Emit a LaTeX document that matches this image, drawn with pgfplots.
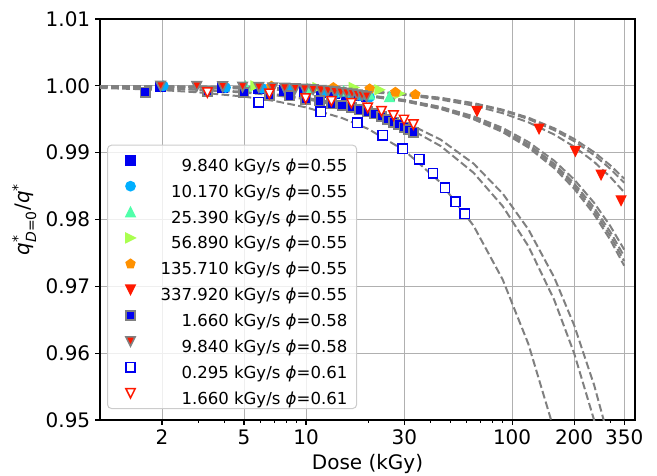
\documentclass[border=0pt]{standalone}
\usepackage{pgfplots}
\pgfplotsset{compat=1.18}
\usepackage{fontspec}
\usepackage{amsmath}
\setmainfont{DejaVu Sans}

\definecolor{c1}{RGB}{0,0,240}
\definecolor{c2}{RGB}{0,175,255}
\definecolor{c3}{RGB}{80,255,170}
\definecolor{c4}{RGB}{170,255,80}
\definecolor{c5}{RGB}{255,145,0}
\definecolor{c6}{RGB}{255,25,0}
\definecolor{fitgray}{RGB}{128,128,128}
\definecolor{gridgray}{RGB}{176,176,176}
\definecolor{legedge}{RGB}{204,204,204}

% matplotlib-like triangles (width = height)
\pgfdeclareplotmark{tridown}{%
  \pgfpathmoveto{\pgfqpoint{0pt}{-\pgfplotmarksize}}%
  \pgfpathlineto{\pgfqpoint{-\pgfplotmarksize}{\pgfplotmarksize}}%
  \pgfpathlineto{\pgfqpoint{\pgfplotmarksize}{\pgfplotmarksize}}%
  \pgfpathclose\pgfusepathqfillstroke}
\pgfdeclareplotmark{triup}{%
  \pgfpathmoveto{\pgfqpoint{0pt}{\pgfplotmarksize}}%
  \pgfpathlineto{\pgfqpoint{-\pgfplotmarksize}{-\pgfplotmarksize}}%
  \pgfpathlineto{\pgfqpoint{\pgfplotmarksize}{-\pgfplotmarksize}}%
  \pgfpathclose\pgfusepathqfillstroke}
\pgfdeclareplotmark{triright}{%
  \pgfpathmoveto{\pgfqpoint{\pgfplotmarksize}{0pt}}%
  \pgfpathlineto{\pgfqpoint{-\pgfplotmarksize}{-\pgfplotmarksize}}%
  \pgfpathlineto{\pgfqpoint{-\pgfplotmarksize}{\pgfplotmarksize}}%
  \pgfpathclose\pgfusepathqfillstroke}

\pgfplotsset{
  fitline/.style={fitgray, line width=1.5pt, dash pattern=on 5.8pt off 2.5pt,
                  no markers, forget plot},
  pts/.style={only marks, mark size=3.5pt, line width=1pt},
}

\begin{document}
\begin{tikzpicture}
\begin{axis}[
    scale only axis,
    width=401.25pt, height=300.75pt,
    xmode=log,
    xmin=1, xmax=395, ymin=0.95, ymax=1.01,
    xtick={2,5,10,30,100,200,350},
    xticklabels={2,5,10,30,100,200,350},
    minor xtick={3,4,6,7,8,9,20,40,50,60,70,80,90,300},
    ytick={0.95,0.96,0.97,0.98,0.99,1.00,1.01},
    yticklabels={0.95,0.96,0.97,0.98,0.99,1.00,1.01},
    xtick pos=bottom, ytick pos=left, tick align=outside,
    major tick length=3.65pt, minor tick length=2.1pt,
    major tick style={black, line width=0.83pt},
    minor tick style={black, line width=0.62pt},
    grid=major,
    major grid style={gridgray, line width=0.75pt},
    axis line style={line width=0.83pt},
    tick label style={font=\fontsize{15}{18}\selectfont, inner sep=3.5pt},
    label style={font=\fontsize{15}{18}\selectfont},
    xlabel={Dose (kGy)},
    ylabel={$\textit{q}^{\text{*}}_{\textit{D}\text{=0}}\text{/}\textit{q}^{\text{*}}$},
    legend cell align=right,
    legend style={at={(0.0131,0.0274)}, anchor=south west,
        font=\fontsize{12.4}{14}\selectfont,
        draw=legedge, fill=white, fill opacity=0.8, text opacity=1,
        rounded corners=3pt, line width=0.75pt,
        inner xsep=7pt, inner ysep=1.7pt, row sep=0pt, column sep=0pt,
        nodes={inner xsep=0pt, inner ysep=0pt}},
    legend image code/.code={%
        \path[draw=none, fill=none] (-10.25pt,-5.35pt) rectangle (22.5pt,13.95pt);
        \draw[#1, fill opacity=1, draw opacity=1] plot coordinates {(0pt,4.3pt)};},
]
\coordinate (fsw) at (rel axis cs:0,0);

%% fitted curves (dashed)
% 0.295 kGy/s phi=0.61
\addplot[fitline] coordinates {
 (1,0.99968) (1.5,0.99952) (2,0.99936) (3,0.99903) (5,0.99839) (7,0.99775)
 (10,0.99678) (15,0.99517) (20,0.99356) (30,0.99034) (45,0.98551) (65,0.97907)
 (90,0.97102) (120,0.96136) (160,0.94848) (200,0.93560)};
% 1.660 kGy/s phi=0.58
\addplot[fitline] coordinates {
 (1,0.99980) (1.5,0.99970) (2,0.99960) (3,0.99940) (5,0.99900) (7,0.99860)
 (10,0.99800) (15,0.99700) (20,0.99600) (30,0.99400) (45,0.99100) (65,0.98700)
 (90,0.98200) (120,0.97600) (160,0.96800) (200,0.96000) (250,0.95000) (300,0.94000)};
% 1.660 kGy/s phi=0.61
\addplot[fitline] coordinates {
 (1,0.99982) (1.5,0.99973) (2,0.99964) (3,0.99946) (5,0.99911) (7,0.99875)
 (10,0.99821) (15,0.99732) (20,0.99642) (30,0.99463) (45,0.99195) (65,0.98837)
 (90,0.98389) (120,0.97852) (160,0.97136) (200,0.96420) (250,0.95525) (300,0.94630)};
% 9.840 kGy/s phi=0.55
\addplot[fitline] coordinates {
 (1,0.99993) (1.5,0.99990) (2,0.99986) (3,0.99979) (5,0.99965) (7,0.99951)
 (10,0.99930) (15,0.99895) (20,0.99860) (30,0.99790) (45,0.99685) (65,0.99545)
 (90,0.99370) (120,0.99160) (160,0.98880) (200,0.98600) (250,0.98250) (300,0.97900) (350,0.97550)};
% 10.170 kGy/s phi=0.55
\addplot[fitline] coordinates {
 (1,0.99993) (1.5,0.99989) (2,0.99985) (3,0.99978) (5,0.99964) (7,0.99949)
 (10,0.99927) (15,0.99891) (20,0.99854) (30,0.99781) (45,0.99672) (65,0.99526)
 (90,0.99344) (120,0.99125) (160,0.98834) (200,0.98542) (250,0.98178) (300,0.97813) (350,0.97449)};
% 25.390 kGy/s phi=0.55
\addplot[fitline] coordinates {
 (1,0.99993) (1.5,0.99989) (2,0.99985) (3,0.99978) (5,0.99963) (7,0.99948)
 (10,0.99925) (15,0.99888) (20,0.99850) (30,0.99775) (45,0.99663) (65,0.99513)
 (90,0.99326) (120,0.99101) (160,0.98802) (200,0.98502) (250,0.98128) (300,0.97753) (350,0.97379)};
% 9.840 kGy/s phi=0.58
\addplot[fitline] coordinates {
 (1,0.99992) (1.5,0.99988) (2,0.99985) (3,0.99977) (5,0.99962) (7,0.99946)
 (10,0.99923) (15,0.99885) (20,0.99846) (30,0.99769) (45,0.99654) (65,0.99500)
 (90,0.99308) (120,0.99077) (160,0.98770) (200,0.98462) (250,0.98078) (300,0.97693) (350,0.97309)};
% 56.890 kGy/s phi=0.55
\addplot[fitline] coordinates {
 (1,0.99996) (1.5,0.99994) (2,0.99992) (3,0.99988) (5,0.99980) (7,0.99972)
 (10,0.99960) (15,0.99940) (20,0.99921) (30,0.99881) (45,0.99821) (65,0.99742)
 (90,0.99643) (120,0.99524) (160,0.99365) (200,0.99206) (250,0.99008) (300,0.98809) (350,0.98611)};
% 135.710 kGy/s phi=0.55
\addplot[fitline] coordinates {
 (1,0.99996) (1.5,0.99994) (2,0.99992) (3,0.99988) (5,0.99979) (7,0.99971)
 (10,0.99959) (15,0.99938) (20,0.99917) (30,0.99876) (45,0.99814) (65,0.99731)
 (90,0.99627) (120,0.99503) (160,0.99338) (200,0.99172) (250,0.98965) (300,0.98758) (350,0.98551)};
% 337.920 kGy/s phi=0.55
\addplot[fitline] coordinates {
 (1,0.99995) (1.5,0.99993) (2,0.99991) (3,0.99986) (5,0.99977) (7,0.99968)
 (10,0.99955) (15,0.99932) (20,0.99909) (30,0.99864) (45,0.99795) (65,0.99704)
 (90,0.99591) (120,0.99454) (160,0.99272) (200,0.99090) (250,0.98863) (300,0.98635) (350,0.98408)};

%% measured points
\addplot[pts, mark=square*, draw=c1, fill=c1] coordinates {
 (1.97,0.99990) (3.94,0.99975) (5.90,0.99960) (7.87,0.99930) (9.84,0.99915)
 (11.81,0.99900) (13.78,0.99885) (15.74,0.99870) (17.71,0.99855) (19.68,0.99840)};
\addlegendentry{9.840 kGy/s \textit{ϕ}=0.55}

\addplot[pts, mark=*, draw=c2, fill=c2] coordinates {
 (2.03,1.00000) (4.07,0.99975) (6.10,0.99965) (8.14,0.99945) (10.17,0.99930)
 (12.20,0.99910) (14.24,0.99895) (16.27,0.99875) (18.31,0.99855) (20.34,0.99830)};
\addlegendentry{10.170 kGy/s \textit{ϕ}=0.55}

\addplot[pts, mark=triup, draw=c3, fill=c3] coordinates {
 (5.08,0.99995) (10.16,0.99950) (15.23,0.99920) (20.31,0.99875) (25.39,0.99835)};
\addlegendentry{25.390 kGy/s \textit{ϕ}=0.55}

\addplot[pts, mark=triright, draw=c4, fill=c4] coordinates {
 (5.69,1.00000) (11.38,0.99975) (17.07,0.99975) (22.76,0.99940) (28.45,0.99885)};
\addlegendentry{56.890 kGy/s \textit{ϕ}=0.55}

\addplot[pts, mark=pentagon*, draw=c5, fill=c5] coordinates {
 (6.79,0.99995) (13.57,0.99975) (20.36,0.99955) (27.14,0.99905) (33.93,0.99870)};
\addlegendentry{135.710 kGy/s \textit{ϕ}=0.55}

\addplot[pts, mark=tridown, draw=c6, fill=c6] coordinates {
 (67.58,0.99620) (135.17,0.99356) (202.75,0.99021) (270.34,0.98668) (337.92,0.98283)};
\addlegendentry{337.920 kGy/s \textit{ϕ}=0.55}

\addplot[pts, mark=square*, draw=fitgray, fill=c1, line width=1.2pt] coordinates {
 (1.66,0.99905) (3.32,0.99920) (4.98,0.99900) (6.64,0.99860) (8.30,0.99850)
 (9.96,0.99800) (11.62,0.99775) (13.28,0.99730) (14.94,0.99705) (16.60,0.99680)
 (18.26,0.99640) (19.92,0.99610) (21.58,0.99580) (23.24,0.99540) (24.90,0.99495)
 (26.56,0.99455) (28.22,0.99425) (29.88,0.99380) (31.54,0.99345) (33.20,0.99305)};
\addlegendentry{1.660 kGy/s \textit{ϕ}=0.58}

\addplot[pts, mark=tridown, draw=fitgray, fill=c6, line width=1.2pt] coordinates {
 (0.98,0.99998) (1.97,0.99995) (2.95,0.99991) (3.94,0.99987) (4.92,0.99983)
 (5.90,0.99977) (6.89,0.99971) (7.87,0.99965) (8.86,0.99958) (9.84,0.99950)
 (10.82,0.99942) (11.81,0.99933) (12.79,0.99923) (13.78,0.99913) (14.76,0.99902)
 (15.74,0.99891) (16.73,0.99879) (17.71,0.99867) (18.70,0.99854) (19.68,0.99840)};
\addlegendentry{9.840 kGy/s \textit{ϕ}=0.58}

\addplot[pts, mark=square*, draw=c1, fill=white, line width=1.1pt] coordinates {
 (5.90,0.99754) (11.80,0.99615) (17.70,0.99446) (23.60,0.99260) (29.50,0.99061)
 (35.40,0.98901) (41.30,0.98692) (47.20,0.98473) (53.10,0.98268) (59.00,0.98084)};
\addlegendentry{0.295 kGy/s \textit{ϕ}=0.61}

\addplot[pts, mark=tridown, draw=c6, fill=white, line width=1.1pt] coordinates {
 (3.32,0.99900) (6.64,0.99880) (9.96,0.99810) (13.28,0.99770) (16.60,0.99740)
 (19.92,0.99670) (23.24,0.99620) (26.56,0.99555) (29.88,0.99490) (33.20,0.99420)};
\addlegendentry{1.660 kGy/s \textit{ϕ}=0.61}
\end{axis}
\pgfresetboundingbox
\path[use as bounding box] ([xshift=-75pt,yshift=-41.25pt]fsw) rectangle ++(492.75pt,356.25pt);
\end{tikzpicture}
\end{document}
